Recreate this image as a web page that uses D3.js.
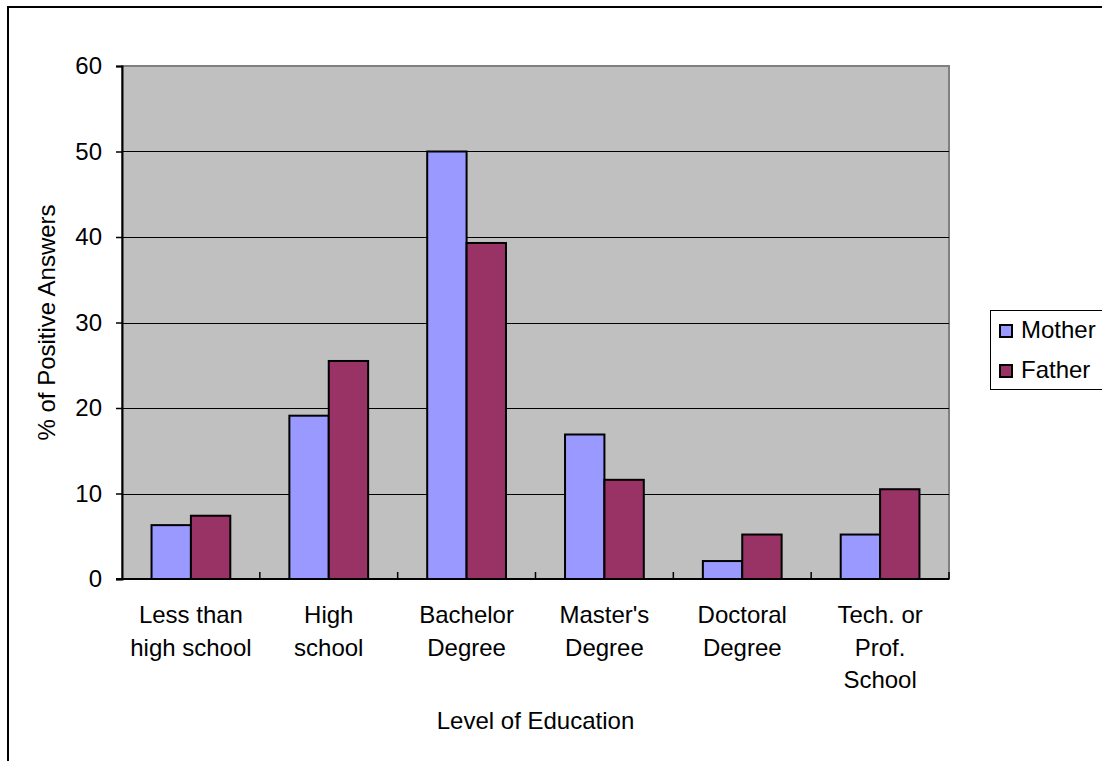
<!DOCTYPE html>
<html>
<head>
<meta charset="utf-8">
<script src="https://cdn.jsdelivr.net/npm/d3@7"></script>
<style>
  html, body { margin: 0; padding: 0; background: #fff; }
  svg { display: block; font-family: "Liberation Sans", Arial, sans-serif; }
</style>
</head>
<body>
<svg id="chart" width="1102" height="761"></svg>
<script>
// Education level of parents (% of positive answers)
const categories = [
  ["Less than", "high school"],
  ["High", "school"],
  ["Bachelor", "Degree"],
  ["Master's", "Degree"],
  ["Doctoral", "Degree"],
  ["Tech. or", "Prof.", "School"]
];
const seriesNames = ["Mother", "Father"];
const motherValues = [6.3, 19.1, 50.0, 16.9, 2.1, 5.2];
const fatherValues = [7.4, 25.5, 39.3, 11.6, 5.2, 10.5];
const yTicks = [0, 10, 20, 30, 40, 50, 60];
const colors = ["#9999ff", "#993366"];

const FONT = 24;
const svg = d3.select("#chart");

// Outer chart frame
svg.append("rect")
  .attr("x", 8).attr("y", 7)
  .attr("width", 1200).attr("height", 800)
  .attr("fill", "#fff").attr("stroke", "#000").attr("stroke-width", 2);

const plot = { left: 122, top: 66, right: 949, bottom: 579 };

const x = d3.scaleBand()
  .domain(d3.range(categories.length))
  .range([plot.left, plot.right])
  .paddingInner(0).paddingOuter(0);

const y = d3.scaleLinear().domain([0, 60]).range([plot.bottom, plot.top]);

// Plot background
svg.append("rect")
  .attr("x", plot.left).attr("y", plot.top)
  .attr("width", plot.right - plot.left).attr("height", plot.bottom - plot.top)
  .attr("fill", "#c0c0c0")
  .attr("stroke", "#808080").attr("stroke-width", 2);

// Horizontal grid lines
svg.append("g")
  .selectAll("line")
  .data(yTicks.filter(t => t > 0 && t < 60))
  .join("line")
  .attr("x1", plot.left).attr("x2", plot.right)
  .attr("y1", d => Math.round(y(d)) + 0.5).attr("y2", d => Math.round(y(d)) + 0.5)
  .attr("stroke", "#000").attr("stroke-width", 1);

// Bars
const band = x.bandwidth();
const barW = band / 3.5;
const groupOffset = (band - 2 * barW) / 2;
const series = [motherValues, fatherValues];

series.forEach((vals, si) => {
  svg.append("g")
    .selectAll("rect")
    .data(vals)
    .join("rect")
    .attr("x", (d, i) => x(i) + groupOffset + si * barW)
    .attr("y", d => y(d))
    .attr("width", barW)
    .attr("height", d => y(0) - y(d))
    .attr("fill", colors[si])
    .attr("stroke", "#000")
    .attr("stroke-width", 2);
});

// Y axis
const yAxis = d3.axisLeft(y).tickValues(yTicks).tickSize(6).tickPadding(14);
const yg = svg.append("g").attr("transform", `translate(${plot.left},0)`).call(yAxis);
yg.select(".domain").attr("stroke", "#000").attr("stroke-width", 2);
yg.selectAll(".tick line").attr("stroke", "#000").attr("stroke-width", 1.5);
yg.selectAll(".tick text")
  .attr("font-size", FONT).attr("font-family", "Liberation Sans, Arial, sans-serif").attr("fill", "#000");

// X axis baseline and inward category ticks
svg.append("line")
  .attr("x1", plot.left - 6).attr("x2", plot.right)
  .attr("y1", plot.bottom).attr("y2", plot.bottom)
  .attr("stroke", "#000").attr("stroke-width", 2);
svg.append("g")
  .selectAll("line")
  .data(d3.range(1, categories.length + 1))
  .join("line")
  .attr("x1", i => x(0) + i * band).attr("x2", i => x(0) + i * band)
  .attr("y1", plot.bottom).attr("y2", plot.bottom - 7)
  .attr("stroke", "#000").attr("stroke-width", 1.5);

// Category labels
const catG = svg.append("g")
  .attr("font-size", FONT).attr("text-anchor", "middle").attr("fill", "#000");
categories.forEach((lines, i) => {
  const t = catG.append("text")
    .attr("x", x(i) + band / 2)
    .attr("y", 623);
  lines.forEach((ln, j) => {
    t.append("tspan").attr("x", x(i) + band / 2).attr("dy", j === 0 ? 0 : 32.5).text(ln);
  });
});

// Axis titles
svg.append("text")
  .attr("x", (plot.left + plot.right) / 2).attr("y", 729)
  .attr("text-anchor", "middle").attr("font-size", FONT).attr("fill", "#000")
  .text("Level of Education");

svg.append("text")
  .attr("transform", `translate(55, ${(plot.top + plot.bottom) / 2}) rotate(-90)`)
  .attr("text-anchor", "middle").attr("font-size", FONT).attr("fill", "#000")
  .text("% of Positive Answers");

// Legend
const legend = svg.append("g");
legend.append("rect")
  .attr("x", 990.5).attr("y", 310.5).attr("width", 140).attr("height", 79)
  .attr("fill", "#fff").attr("stroke", "#000").attr("stroke-width", 1);
seriesNames.forEach((name, i) => {
  const top = 325 + i * 40;
  legend.append("rect")
    .attr("x", 1000).attr("y", top).attr("width", 12).attr("height", 12)
    .attr("fill", colors[i]).attr("stroke", "#000").attr("stroke-width", 2);
  legend.append("text")
    .attr("x", 1021).attr("y", top + 12.5)
    .attr("font-size", FONT).attr("fill", "#000")
    .text(name);
});
</script>
</body>
</html>
